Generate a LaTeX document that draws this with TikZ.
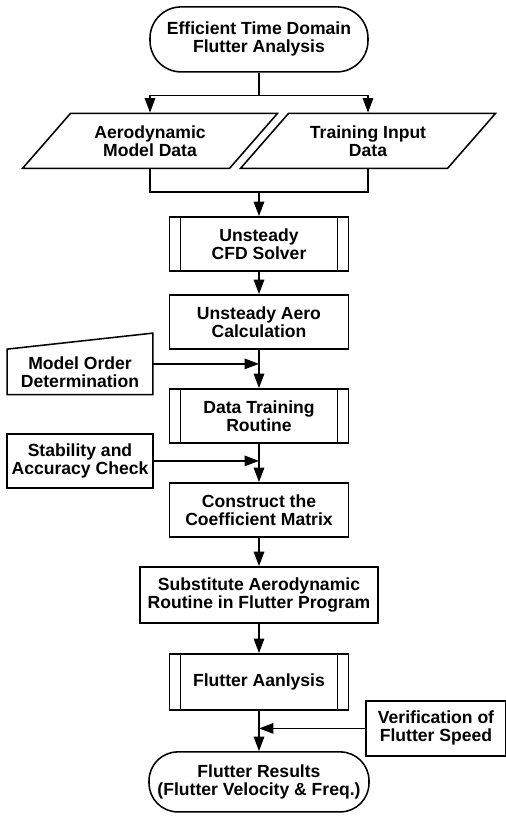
\documentclass[tikz,border=0pt]{standalone}
\usepackage{fontspec}
\setmainfont{Liberation Sans}
\usetikzlibrary{positioning, shapes.geometric, arrows.meta}

\begin{document}
\begin{tikzpicture}[on grid, line width=1.1pt, >={Triangle[length=0.36cm,width=0.26cm]},
  every node/.style={align=center, font=\fontsize{12.5}{12.8}\selectfont\bfseries},
  term/.style={draw, rounded corners=0.78cm, minimum width=5.45cm, minimum height=1.625cm},
  io/.style={draw, trapezium, trapezium left angle=40, trapezium right angle=140,
    trapezium stretches body, minimum width=6.375cm, minimum height=1.375cm},
  proc/.style={draw, minimum width=4.475cm, minimum height=1.35cm},
  sub/.style={proc, path picture={
    \draw ([xshift=0.275cm]path picture bounding box.north west) -- ([xshift=0.275cm]path picture bounding box.south west)
          ([xshift=-0.275cm]path picture bounding box.north east) -- ([xshift=-0.275cm]path picture bounding box.south east);}},
  manual/.style={minimum width=3.6cm, minimum height=1.1cm}]
   \useasboundingbox (0,0) rectangle (12.65,-20.4);
   \node[term] (start) at (6.475,-0.985) {Efficient Time Domain\\Flutter Analysis};
   \node[io] (model) [below left=2.5375cm and 2.725cm of start] {Aerodynamic\\Model Data};
   \node[io] (input) [below right=2.5375cm and 2.725cm of start] {Training Input\\Data};
   \node[sub] (cfd) [below=5.1125cm of start] {Unsteady\\CFD Solver};
   \node[proc] (aero) [below=1.95cm of cfd] {Unsteady Aero\\Calculation};
   \node[sub] (train) [below=2.35cm of aero] {Data Training\\Routine};
   \node[proc] (coef) [below=2.35cm of train] {Construct the\\Coefficient Matrix};
   \node[proc, minimum width=5.95cm, minimum height=1.4cm] (subst) [below=2.125cm of coef] {Substitute Aerodynamic\\Routine in Flutter Program};
   \node[sub, minimum height=1.4cm] (flutter) [below=2.175cm of subst] {Flutter Aanlysis};
   \node[term, minimum width=5.5cm, minimum height=1.5cm, rounded corners=0.72cm] (result) [below=2.5cm of flutter] {Flutter Results\\(Flutter Velocity \& Freq.)};
   \node[manual] (order) [below left=1.25cm and 4.475cm of aero] {Model Order\\Determination};
   \node[proc, minimum width=3.6cm] (check) [below left=1.125cm and 4.475cm of train] {Stability and\\Accuracy Check};
   \node[proc, minimum width=3.5cm, minimum height=1.375cm] (verify) [below right=1.1625cm and 4.425cm of flutter] {Verification of\\Flutter Speed};
   \draw (start.south) -- ++(0,-0.575) coordinate (split);
   \draw[->] (split) -| (model.north);
   \draw[->] (split) -| (input.north);
   \coordinate (merge) at ([yshift=0.6cm]cfd.north);
   \draw (model.south) |- (merge) -| (input.south);
   \draw[->] (merge) -- (cfd);
   \path[->]
    (cfd) edge (aero)
    (aero) edge (train)
    (train) edge (coef)
    (coef) edge (subst)
    (subst) edge (flutter)
    (flutter) edge (result);
   \draw (order.south west) -- (order.north west) -- ([yshift=0.4cm]order.north east) -- (order.south east) -- cycle;
   \draw[->] ([yshift=0.2cm]order.east) -- ([yshift=0.2cm]order.east -| aero.south);
   \draw[->] (check) -- (check -| train.south);
   \draw[->] (verify) -- (verify -| flutter.south);
\end{tikzpicture}
\end{document}
